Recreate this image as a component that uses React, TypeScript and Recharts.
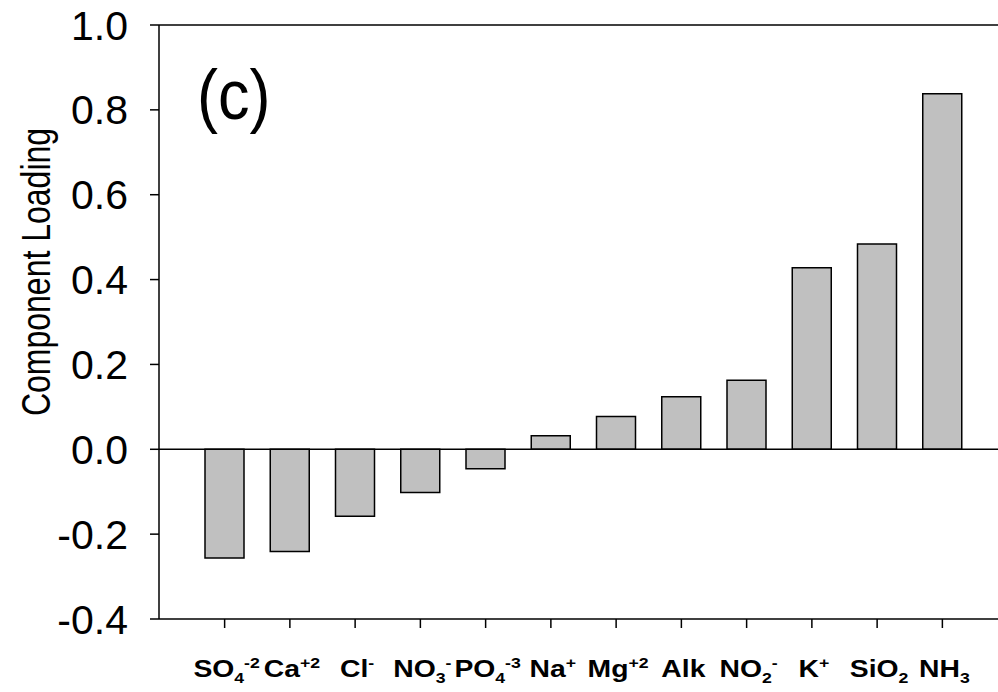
import React from 'react';
import { BarChart, Bar, XAxis, YAxis, ReferenceLine, Label } from 'recharts';

const categories = ['SO4-2', 'Ca+2', 'Cl-', 'NO3-', 'PO4-3', 'Na+', 'Mg+2', 'Alk', 'NO2-', 'K+', 'SiO2', 'NH3'];
const loadings = [-0.256, -0.241, -0.158, -0.102, -0.046, 0.032, 0.077, 0.124, 0.163, 0.428, 0.484, 0.838];
const labelBase = ['SO', 'Ca', 'Cl', 'NO', 'PO', 'Na', 'Mg', 'Alk', 'NO', 'K', 'SiO', 'NH'];
const labelSub = ['4', '', '', '3', '4', '', '', '', '2', '', '2', '3'];
const labelSup = ['-2', '+2', '-', '-', '-3', '+', '+2', '', '-', '+', '', ''];
const yTicks = [-0.4, -0.2, 0.0, 0.2, 0.4, 0.6, 0.8, 1.0];

const data = categories.map((c, i) => ({ name: c, value: loadings[i] }));

const FONT = '"Liberation Sans", Arial, Helvetica, sans-serif';

const XTick = (props: any) => {
  const { x, y, payload } = props;
  const i = categories.indexOf(payload.value);
  const sub = labelSub[i];
  const sup = labelSup[i];
  return (
    <g transform={`translate(${x + 2},${y}) scale(1.18,1)`}>
      <text
        x={0}
        y={0}
        dy={47}
        textAnchor="middle"
        fontFamily={FONT}
        fontWeight="bold"
        fontSize={24}
        fill="#000"
      >
        <tspan>{labelBase[i]}</tspan>
        {sub ? (
          <tspan fontSize={15} dy={6}>{sub}</tspan>
        ) : null}
        {sup ? (
          <tspan fontSize={15} dy={sub ? -15 : -9}>{sup}</tspan>
        ) : null}
      </text>
    </g>
  );
};

export default function App() {
  return (
    <div style={{ position: 'absolute', left: 0, top: 0, width: 998, height: 692, background: '#fff' }}>
      <BarChart
        width={998}
        height={692}
        data={data}
        margin={{ top: 25, right: 0, bottom: 0, left: 0 }}
        barSize={39}
      >
        <XAxis
          dataKey="name"
          height={73}
          padding={{ left: 33, right: 23 }}
          tickSize={9}
          tickMargin={2}
          axisLine={{ stroke: '#000', strokeWidth: 1.5 }}
          tickLine={{ stroke: '#000', strokeWidth: 1.5 }}
          tick={<XTick />}
          interval={0}
        />
        <YAxis
          width={159}
          domain={[-0.4, 1.0]}
          ticks={yTicks}
          allowDataOverflow
          tickFormatter={(v: number) => v.toFixed(1)}
          tickSize={9}
          tickMargin={22}
          axisLine={{ stroke: '#000', strokeWidth: 1.5 }}
          tickLine={{ stroke: '#000', strokeWidth: 1.5 }}
          tick={{ fill: '#000', fontSize: 41, fontFamily: FONT }}
        >
          <Label
            content={() => (
              <text
                x={0}
                y={0}
                transform="translate(50,272) rotate(-90) scale(1,1.25)"
                textAnchor="middle"
                fontFamily={FONT}
                fontSize={32}
                fill="#000"
              >
                Component Loading
              </text>
            )}
          />
        </YAxis>
        <ReferenceLine y={1.0} stroke="#000" strokeWidth={1.5} />
        <Bar dataKey="value" fill="#c0c0c0" stroke="#000" strokeWidth={1.5} isAnimationActive={false} />
        <ReferenceLine y={0} stroke="#000" strokeWidth={1.5} />
      </BarChart>
      <div
        style={{
          position: 'absolute',
          left: 197,
          top: 60,
          fontFamily: FONT,
          fontSize: 70,
          lineHeight: '70px',
          color: '#000',
          transform: 'scaleX(0.9)',
          transformOrigin: 'left top',
        }}
      >
        (c)
      </div>
    </div>
  );
}
